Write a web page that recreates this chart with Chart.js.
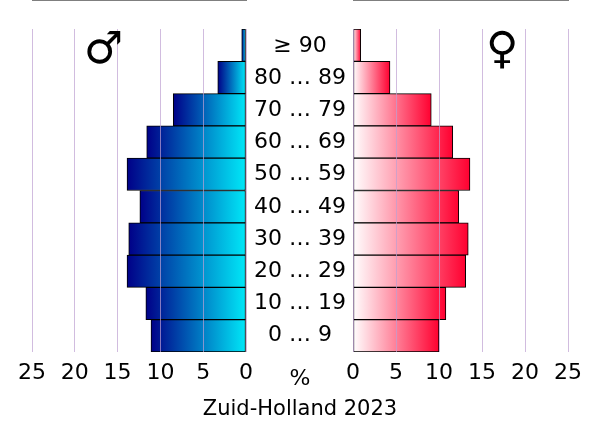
<!DOCTYPE html>
<html><head><meta charset="utf-8">
<script src="https://cdn.jsdelivr.net/npm/chart.js@4"></script>
<style>
body{margin:0;width:600px;height:428px;background:#fff;font-family:"DejaVu Sans",sans-serif;overflow:hidden}
canvas{position:absolute;left:0;top:0}
.lab{position:absolute;width:120px;left:240px;text-align:center;font-size:22px;line-height:24px;color:#000}
.t{position:absolute;font-family:"DejaVu Sans";color:#000}
</style></head><body>
<canvas id="m" width="600" height="428"></canvas>
<canvas id="f" width="600" height="428"></canvas>
<div id="labs"></div>
<div class="t" style="left:0;width:600px;text-align:center;top:396px;font-size:21px">Zuid-Holland 2023</div>
<div class="t" style="left:0;width:600px;text-align:center;top:365px;font-size:22px">%</div>
<div class="t" style="left:84px;top:22px;font-size:44px;font-weight:bold">♂</div>
<div class="t" style="left:486px;top:22px;font-size:44px;font-weight:bold">♀</div>
<script>
const ageGroups=["≥ 90","80 … 89","70 … 79","60 … 69","50 … 59","40 … 49","30 … 39","20 … 29","10 … 19","0 … 9"];
const male=[0.5,3.3,8.5,11.6,13.9,12.4,13.7,13.9,11.7,11.1];
const female=[0.9,4.3,9.1,11.6,13.6,12.3,13.4,13.1,10.8,10.0];
const ticks=[0,5,10,15,20,25];

function grad(c0,c1,fb){return ctx=>{const ch=ctx.chart;if(!ch.chartArea)return fb;const x=ch.scales.x;
 const a=x.getPixelForValue(0),b=x.getPixelForValue(ctx.raw||0.01);const g=ch.ctx.createLinearGradient(a,0,b,0);
 g.addColorStop(0,c0);g.addColorStop(1,c1);return g;};}

function make(id,data,reverse,padL,padR,c0,c1){
 new Chart(document.getElementById(id),{type:'bar',
 data:{labels:ageGroups,datasets:[{data:data,backgroundColor:grad(c0,c1,c1),borderColor:'#000',borderWidth:1,borderSkipped:false,barPercentage:1,categoryPercentage:1}]},
 options:{indexAxis:'y',responsive:false,animation:false,events:[],
  layout:{padding:{left:padL,right:padR,top:29,bottom:0}},
  plugins:{legend:{display:false},tooltip:{enabled:false}},
  scales:{
   x:{type:'linear',min:0,max:25,reverse:reverse,afterBuildTicks:s=>{s.ticks=ticks.map(v=>({value:v}));},
    afterFit:s=>{s.height=76;},
    grid:{color:'rgba(190,160,210,0.7)',drawTicks:false,z:1},border:{display:true,color:'#000',width:1},
    ticks:{padding:8,color:'#000',font:{family:'DejaVu Sans',size:22}}},
   y:{display:false,grid:{display:false}}
  }}});
}
make('m',male,true,32,354,'#00e8f8','#000088');
make('f',female,false,353,32,'#ffffff','#ff0030');

const labs=document.getElementById('labs');
ageGroups.forEach((g,i)=>{const d=document.createElement('div');d.className='lab';d.textContent=g;d.style.top=(33+i*32.1)+'px';labs.appendChild(d);});
</script></body></html>
